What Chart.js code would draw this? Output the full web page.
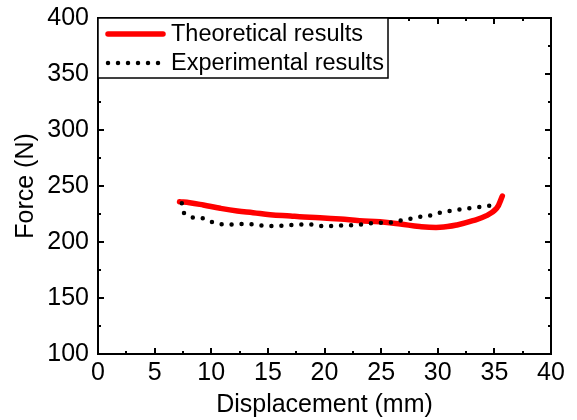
<!DOCTYPE html>
<html>
<head>
<meta charset="utf-8">
<script src="https://cdn.jsdelivr.net/npm/chart.js@4"></script>
<style>
  html, body { margin: 0; padding: 0; background: #fff; }
  #wrap { width: 577px; height: 420px; position: relative; }
</style>
</head>
<body>
<div id="wrap"><canvas id="chart"></canvas></div>
<script>
// Force–displacement curves
const theoryDisp = [7.2, 8.1, 9.3, 10.8, 12.3, 13.7, 15.2, 17.0, 17.8, 19.6, 21.4, 23.1, 24.9, 26.7, 28.4, 30.2, 31.7, 33.1, 34.3, 35.2, 35.7];
const theoryForce = [236.0, 235.1, 233.0, 230.1, 227.7, 226.2, 224.4, 223.2, 222.6, 221.7, 220.5, 219.0, 218.1, 216.1, 213.8, 213.1, 215.2, 219.0, 223.5, 230.1, 241.0];

const expDisp = [7.4, 7.6, 8.4, 9.3, 10.2, 11.1, 12.0, 12.9, 13.8, 14.7, 15.6, 16.5, 17.3, 18.2, 19.1, 20.0, 20.9, 21.8, 22.7, 23.5, 24.4, 25.2, 26.1, 27.0, 27.8, 28.7, 29.6, 30.5, 31.4, 32.2, 33.1, 34.0, 34.9];
const expForce = [234.6, 225.6, 221.7, 221.2, 217.2, 215.4, 215.8, 216.3, 215.8, 214.3, 214.3, 214.7, 215.4, 215.8, 215.4, 213.6, 214.6, 214.9, 214.9, 216.1, 217.2, 217.2, 217.4, 219.9, 221.2, 222.9, 224.1, 227.1, 227.9, 229.5, 230.6, 231.5, 233.0];

const seriesNames = ['Theoretical results', 'Experimental results'];
const xTicks = [0, 5, 10, 15, 20, 25, 30, 35, 40];
const yTicks = [100, 150, 200, 250, 300, 350, 400];

const FONT = "'Liberation Sans', Arial, sans-serif";
const toPoints = (xs, ys) => xs.map((x, i) => ({ x, y: ys[i] }));

// Frame, inward ticks on all four sides, and the boxed legend
const framePlugin = {
  id: 'frame',
  afterDraw(chart) {
    const { ctx, chartArea: a, scales: { x, y } } = chart;
    ctx.save();
    ctx.strokeStyle = '#000';
    ctx.lineWidth = 2;
    ctx.strokeRect(a.left, a.top, a.right - a.left, a.bottom - a.top);

    const major = 6, minor = 3;
    ctx.beginPath();
    const xStep = xTicks[1] - xTicks[0];
    for (let v = xTicks[0]; v <= xTicks[xTicks.length - 1] + 1e-9; v += xStep / 2) {
      const px = Math.round(x.getPixelForValue(v));
      const len = (Math.abs(v / xStep - Math.round(v / xStep)) < 1e-6) ? major : minor;
      ctx.moveTo(px, a.bottom); ctx.lineTo(px, a.bottom - len);
      ctx.moveTo(px, a.top); ctx.lineTo(px, a.top + len);
    }
    const yStep = yTicks[1] - yTicks[0];
    for (let v = yTicks[0]; v <= yTicks[yTicks.length - 1] + 1e-9; v += yStep / 2) {
      const py = Math.round(y.getPixelForValue(v));
      const len = (Math.abs((v - yTicks[0]) / yStep - Math.round((v - yTicks[0]) / yStep)) < 1e-6) ? major : minor;
      ctx.moveTo(a.left, py); ctx.lineTo(a.left + len, py);
      ctx.moveTo(a.right, py); ctx.lineTo(a.right - len, py);
    }
    ctx.stroke();

    // legend box in the upper-left corner of the plot
    const bx = a.left, by = a.top, bw = 290, bh = 60;
    ctx.fillStyle = '#fff';
    ctx.fillRect(bx, by, bw, bh);
    ctx.lineWidth = 1.5;
    ctx.strokeRect(bx, by, bw, bh);

    const ds = chart.data.datasets;
    const rows = [by + 16, by + 45];
    ds.forEach((d, i) => {
      const yy = rows[i];
      ctx.save();
      ctx.beginPath();
      ctx.strokeStyle = d.borderColor;
      ctx.lineWidth = d.borderWidth;
      ctx.lineCap = d.borderCapStyle || 'butt';
      ctx.setLineDash(d.borderDash || []);
      ctx.moveTo(bx + 10, yy);
      ctx.lineTo(bx + 65, yy);
      ctx.stroke();
      ctx.restore();
      ctx.fillStyle = '#000';
      ctx.font = '23.5px ' + FONT;
      ctx.textBaseline = 'middle';
      ctx.textAlign = 'left';
      ctx.fillText(d.label, bx + 73, yy + 1);
    });
    ctx.restore();
  }
};

new Chart(document.getElementById('chart'), {
  type: 'line',
  data: {
    datasets: [
      {
        label: seriesNames[0],
        data: toPoints(theoryDisp, theoryForce),
        borderColor: '#ff0000',
        backgroundColor: '#ff0000',
        borderWidth: 5.5,
        borderCapStyle: 'round',
        borderJoinStyle: 'round',
        pointRadius: 0,
        tension: 0.4,
        order: 2
      },
      {
        label: seriesNames[1],
        data: toPoints(expDisp, expForce),
        borderColor: '#000000',
        backgroundColor: '#000000',
        borderWidth: 4.5,
        borderCapStyle: 'round',
        borderDash: [0, 10],
        pointRadius: 0,
        tension: 0,
        order: 1
      }
    ]
  },
  options: {
    responsive: true,
    maintainAspectRatio: false,
    animation: false,
    layout: { padding: { top: 18, right: 26, left: 0, bottom: 0 } },
    plugins: { legend: { display: false }, tooltip: { enabled: false } },
    scales: {
      x: {
        type: 'linear',
        min: xTicks[0],
        max: xTicks[xTicks.length - 1],
        afterBuildTicks: s => { s.ticks = xTicks.map(v => ({ value: v })); },
        afterFit: s => { s.height = 66; s.paddingLeft = 0; s.paddingRight = 0; },
        grid: { display: true, drawOnChartArea: false, drawTicks: false },
        border: { display: true, color: '#000', width: 2 },
        ticks: { color: '#000', font: { family: FONT, size: 25 }, padding: 4, maxRotation: 0 },
        title: { display: true, text: 'Displacement (mm)', color: '#000', font: { family: FONT, size: 25, lineHeight: 1.2 }, padding: { top: 0, bottom: 0 } }
      },
      y: {
        type: 'linear',
        min: yTicks[0],
        max: yTicks[yTicks.length - 1],
        afterBuildTicks: s => { s.ticks = yTicks.map(v => ({ value: v })); },
        afterFit: s => { s.width = 98; s.paddingTop = 0; s.paddingBottom = 0; },
        grid: { display: true, drawOnChartArea: false, drawTicks: false },
        border: { display: true, color: '#000', width: 2 },
        ticks: { color: '#000', font: { family: FONT, size: 25 }, padding: 9 },
        title: { display: true, text: 'Force (N)', color: '#000', font: { family: FONT, size: 25, lineHeight: 1.2 }, padding: { top: 11, bottom: 0 } }
      }
    }
  },
  plugins: [framePlugin]
});
</script>
</body>
</html>
